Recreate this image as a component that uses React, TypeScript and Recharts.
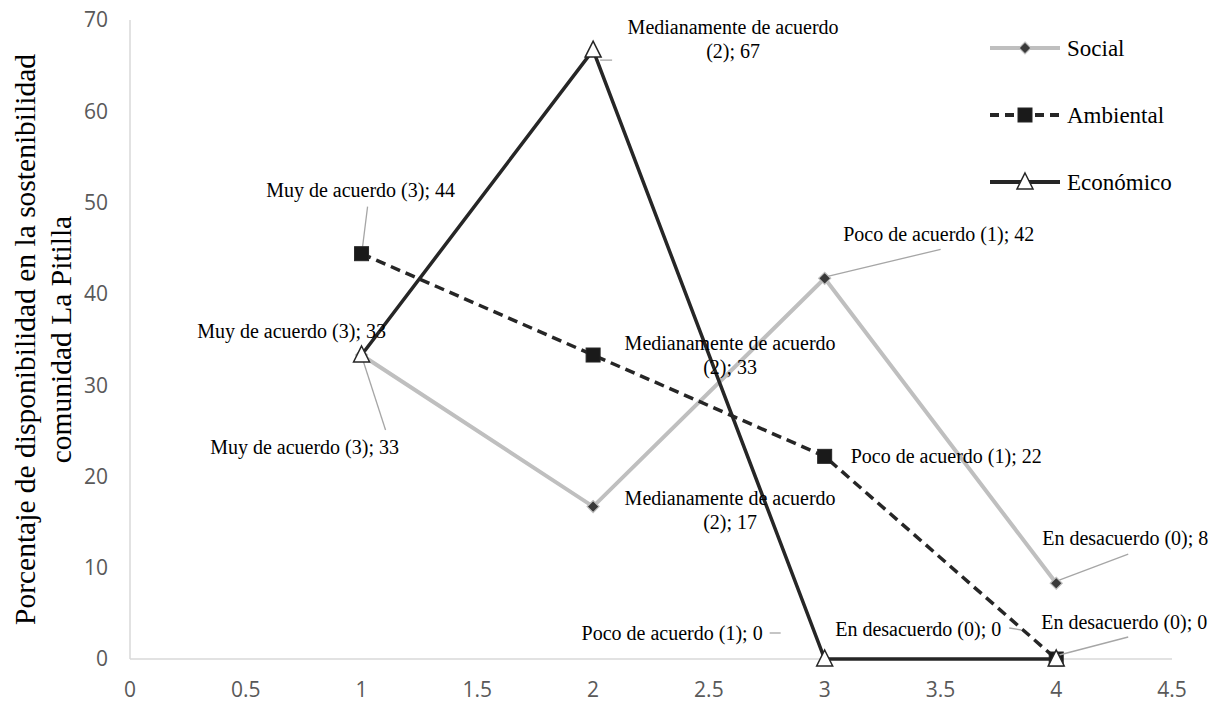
import React from 'react'
import { LineChart, Line, XAxis, YAxis, Legend } from 'recharts'

const categories = ['Muy de acuerdo (3)', 'Medianamente de acuerdo (2)', 'Poco de acuerdo (1)', 'En desacuerdo (0)']
const xValues = [1, 2, 3, 4]
const social = [33.3, 16.7, 41.7, 8.3]
const ambiental = [44.4, 33.3, 22.2, 0]
const economico = [33.3, 66.7, 0, 0]
const xTicks = [0, 0.5, 1, 1.5, 2, 2.5, 3, 3.5, 4, 4.5]
const yTicks = [0, 10, 20, 30, 40, 50, 60, 70]

const rows = xValues.map((x, i) => ({
  x,
  cat: categories[i],
  social: social[i],
  ambiental: ambiental[i],
  economico: economico[i],
}))

const SERIF = '"Liberation Serif", "Times New Roman", serif'
const LEADER = '#a6a6a6'

type LabelPos = {
  dx: number
  dy: number
  anchor?: 'start' | 'middle' | 'end'
  split?: boolean
  leader?: number[]
}

// label placement relative to each point
const socialLabels: LabelPos[] = [
  { dx: -57, dy: 92, leader: [24, 75, 1, 4] },
  { dx: 137, dy: -9, split: true },
  { dx: 114, dy: -44, leader: [3, -2, 116, -29] },
  { dx: -14, dy: -45, anchor: 'start', leader: [3, -3, 72, -29] },
]
const ambientalLabels: LabelPos[] = [
  { dx: -1, dy: -64, leader: [6, -47, 1, -7] },
  { dx: 137, dy: -12, split: true },
  { dx: 26, dy: 0, anchor: 'start' },
  { dx: -55, dy: -30, anchor: 'end', leader: [-47, -31, -35, -29] },
]
const economicoLabels: LabelPos[] = [
  { dx: -70, dy: -24 },
  { dx: 140, dy: -23, split: true, leader: [7, 10, 19, 10] },
  { dx: -62, dy: -26, anchor: 'end', leader: [-55, -26, -44, -26] },
  { dx: -15, dy: -37, anchor: 'start', leader: [3, -4, 72, -22] },
]

function PointLabel({ cx, cy, pos, cat, value }: any) {
  const text = `${cat}; ${Math.round(value)}`
  const anchor = pos.anchor || 'middle'
  let lines = [text]
  if (pos.split) {
    const k = cat.lastIndexOf(' (')
    lines = [cat.slice(0, k), `${cat.slice(k + 1)}; ${Math.round(value)}`]
  }
  return (
    <g>
      {pos.leader && (
        <line
          x1={cx + pos.leader[0]}
          y1={cy + pos.leader[1]}
          x2={cx + pos.leader[2]}
          y2={cy + pos.leader[3]}
          stroke={LEADER}
          strokeWidth={1.3}
        />
      )}
      {lines.map((l, i) => (
        <text
          key={i}
          x={cx + pos.dx}
          y={cy + pos.dy + i * 24}
          textAnchor={anchor}
          dominantBaseline="central"
          fontFamily={SERIF}
          fontSize={20}
          fill="#000"
        >
          {l}
        </text>
      ))}
    </g>
  )
}

function diamond(cx: number, cy: number) {
  return <path d={`M${cx},${cy - 6} L${cx + 6},${cy} L${cx},${cy + 6} L${cx - 6},${cy} Z`} fill="#3a3a3a" stroke="#bfbfbf" strokeWidth={1.2} />
}
function square(cx: number, cy: number) {
  return <rect x={cx - 7} y={cy - 7} width={14} height={14} fill="#1a1a1a" stroke="#262626" strokeWidth={1} />
}
function triangle(cx: number, cy: number) {
  return <path d={`M${cx},${cy - 9} L${cx + 8},${cy + 7} L${cx - 8},${cy + 7} Z`} fill="#fff" stroke="#262626" strokeWidth={1.5} />
}

const makeDot = (marker: (x: number, y: number) => any, labels: LabelPos[]) => (props: any) => {
  const { cx, cy, index, payload, value } = props
  const v = Array.isArray(value) ? value[1] : value
  return (
    <g key={`d${index}`}>
      <PointLabel cx={cx} cy={cy} pos={labels[index]} cat={payload.cat} value={v} />
      {marker(cx, cy)}
    </g>
  )
}

const legendItems = [
  { name: 'Social', color: '#bfbfbf', dash: undefined, marker: diamond },
  { name: 'Ambiental', color: '#262626', dash: '9 6', marker: square },
  { name: 'Económico', color: '#262626', dash: undefined, marker: triangle },
]

function LegendBox() {
  return (
    <svg width={200} height={170}>
      {legendItems.map((it, i) => {
        const y = 20 + i * 67
        return (
          <g key={it.name}>
            <line x1={0} y1={y} x2={70} y2={y} stroke={it.color} strokeWidth={4} strokeDasharray={it.dash} />
            {it.marker(35, y)}
            <text x={77} y={y} dominantBaseline="central" fontFamily={SERIF} fontSize={23} fill="#000">
              {it.name}
            </text>
          </g>
        )
      })}
    </svg>
  )
}

function YTitle() {
  const cy = 12 + 639 / 2
  const lines = ['Porcentaje de disponibilidad en la sostenibilidad', 'comunidad La Pitilla']
  const xs = [17, 53]
  return (
    <g>
      {lines.map((l, i) => (
        <text
          key={i}
          x={xs[i]}
          y={cy}
          transform={`rotate(-90 ${xs[i]} ${cy})`}
          textAnchor="middle"
          dominantBaseline="central"
          fontFamily={SERIF}
          fontSize={29.5}
          fill="#000"
        >
          {l}
        </text>
      ))}
    </g>
  )
}

const tickStyle = { fontFamily: '"Open Sans", sans-serif', fontSize: 21, fill: '#595959' }

export default function App() {
  return (
    <LineChart width={1214} height={694} data={rows} margin={{ top: 12, right: 50, bottom: 8, left: 0 }}>
      <XAxis
        type="number"
        dataKey="x"
        domain={[0, 4.5]}
        ticks={xTicks}
        tickLine={false}
        tickSize={0}
        tickMargin={23}
        height={35}
        axisLine={{ stroke: '#d9d9d9', strokeWidth: 1.5 }}
        tick={tickStyle}
        interval={0}
        zIndex={-50}
      />
      <YAxis
        type="number"
        domain={[0, 70]}
        ticks={yTicks}
        tickLine={false}
        tickSize={0}
        tickMargin={22}
        width={122}
        axisLine={{ stroke: '#d9d9d9', strokeWidth: 1.5 }}
        tick={tickStyle}
        interval={0}
        label={<YTitle />}
        zIndex={-50}
      />
      <Legend
        layout="vertical"
        align="center"
        verticalAlign="middle"
        wrapperStyle={{ top: 20, left: 982, width: 200, height: 170 }}
        content={() => <LegendBox />}
      />
      <Line
        dataKey="social"
        name="Social"
        stroke="#bfbfbf"
        strokeWidth={4}
        isAnimationActive={false}
        dot={makeDot(diamond, socialLabels)}
        activeDot={false}
      />
      <Line
        dataKey="ambiental"
        name="Ambiental"
        stroke="#262626"
        strokeWidth={3.5}
        strokeDasharray="10 6"
        isAnimationActive={false}
        dot={makeDot(square, ambientalLabels)}
        activeDot={false}
      />
      <Line
        dataKey="economico"
        name="Económico"
        stroke="#262626"
        strokeWidth={3.5}
        isAnimationActive={false}
        dot={makeDot(triangle, economicoLabels)}
        activeDot={false}
      />
    </LineChart>
  )
}
